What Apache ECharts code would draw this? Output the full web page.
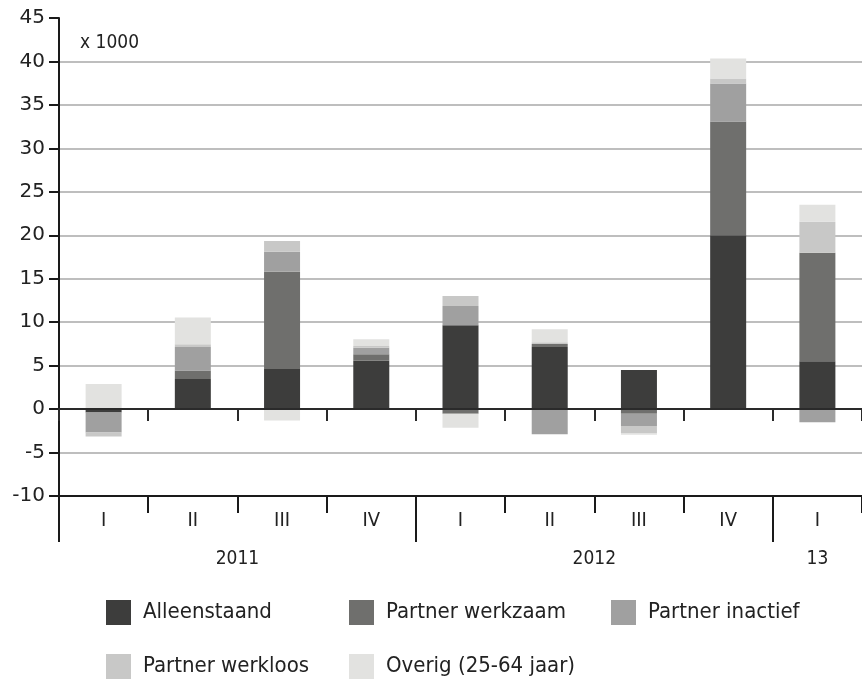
<!DOCTYPE html>
<html>
<head>
<meta charset="utf-8">
<script src="https://cdn.jsdelivr.net/npm/echarts@6/dist/echarts.min.js"></script>
<style>
html,body{margin:0;padding:0;background:#fff;}
#c{width:862px;height:686px;}
</style>
</head>
<body>
<div id="c"></div>
<script>
var categories = ['I','II','III','IV','I','II','III','IV','I'];
var yearLabels = ['2011','2012','13'];
var yearLabelPos = [2, 6, 8.5];
var yearBoundaries = [0, 4, 8];
var alleenstaand = [-0.4, 3.45, 4.6, 5.55, 9.65, 7.15, 4.5, 20.0, 5.5];
var partnerWerkzaam = [0, 1.0, 11.2, 0.75, -0.55, 0.35, -0.55, 13.1, 12.5];
var partnerInactief = [-2.3, 2.7, 2.3, 0.75, 2.2, -2.9, -1.4, 4.35, -1.5];
var partnerWerkloos = [-0.45, 0.3, 1.25, 0.2, 1.15, 0.2, -0.85, 0.6, 3.55];
var overig = [2.9, 3.1, -1.3, 0.8, -1.6, 1.5, -0.15, 2.3, 1.95];
var seriesNames = ['Alleenstaand','Partner werkzaam','Partner inactief','Partner werkloos','Overig (25-64 jaar)'];
var seriesData = [alleenstaand, partnerWerkzaam, partnerInactief, partnerWerkloos, overig];
var colors = ['#3d3d3c','#6f6f6d','#a0a0a0','#c8c8c7','#e2e2e0'];

var FONT = "'DejaVu Sans Condensed','Liberation Sans Narrow','Noto Sans',sans-serif";
var chart = echarts.init(document.getElementById('c'), null, {renderer:'canvas'});

var gridColors = [];
for (var i = 0; i < 12; i++) gridColors.push((i === 0 || i === 2 || i === 11) ? 'rgba(0,0,0,0)' : '#a9a9a9');

var legendPos = [[106,600],[349,600],[611,600],[106,654],[349,654]];
var legends = seriesNames.map(function(n, i){
  return {
    data:[n], left:legendPos[i][0], top:legendPos[i][1], padding:0,
    icon:'rect', itemWidth:25, itemHeight:25, selectedMode:false,
    textStyle:{fontFamily:FONT, fontSize:22, color:'#222', padding:[0,0,0,7]}
  };
});

var option = {
  animation:false,
  color: colors,
  textStyle:{fontFamily:FONT},
  grid:{left:59, right:-3, top:18, bottom:190, containLabel:false},
  legend: legends,
  graphic:[{type:'text', left:80, top:34, style:{text:'x 1000', font:'19px ' + FONT, fill:'#222'}}],
  xAxis:[
    {type:'category', data:categories, position:'bottom', z:10,
     axisLine:{onZero:true, lineStyle:{color:'#2a2a2a', width:2}},
     axisTick:{show:true, length:12, lineStyle:{color:'#2a2a2a', width:2}},
     axisLabel:{show:false}, splitLine:{show:false}},
    {type:'category', data:categories, position:'bottom', z:10,
     axisLine:{onZero:false, lineStyle:{color:'#1a1a1a', width:2}},
     axisTick:{show:true, length:17, lineStyle:{color:'#1a1a1a', width:2}},
     axisLabel:{show:true, margin:15, fontSize:20, color:'#222', fontFamily:FONT},
     splitLine:{show:false}},
    {type:'value', min:0, max:9, position:'bottom', z:10,
     axisLine:{show:false, onZero:false},
     axisTick:{show:true, customValues:yearBoundaries, length:46, lineStyle:{color:'#1a1a1a', width:2}},
     axisLabel:{show:true, customValues:yearLabelPos, margin:54, fontSize:19, color:'#222', fontFamily:FONT,
       formatter:function(v){ var k = yearLabelPos.indexOf(v); return k >= 0 ? yearLabels[k] : ''; }},
     splitLine:{show:false}}
  ],
  yAxis:{
    type:'value', min:-10, max:45, interval:5,
    axisLine:{show:true, onZero:false, lineStyle:{color:'#1a1a1a', width:2}},
    axisTick:{show:true, length:10, lineStyle:{color:'#1a1a1a', width:2}},
    axisLabel:{fontSize:20, color:'#222', margin:14, fontFamily:"'DejaVu Sans','Noto Sans',sans-serif"},
    splitLine:{show:true, lineStyle:{color:gridColors, width:1.5}}
  },
  series: seriesNames.map(function(n, i){
    return {name:n, type:'bar', stack:'total', xAxisIndex:0, barWidth:36,
      itemStyle:{color:colors[i]}, data:seriesData[i]};
  })
};
chart.setOption(option);
</script>
</body>
</html>
